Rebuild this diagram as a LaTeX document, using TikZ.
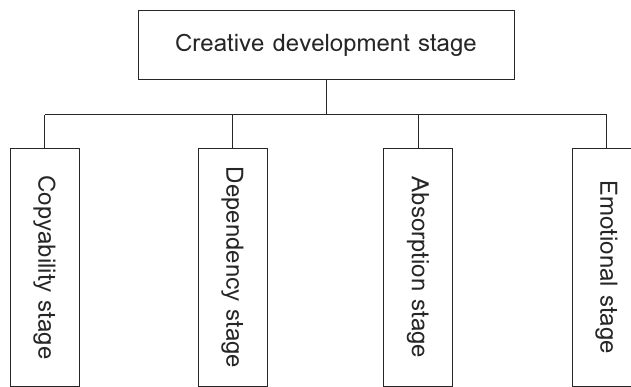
\documentclass[tikz,border=0pt]{standalone}
\usepackage{fontspec}
\newfontfamily\lomafont{Loma}
\usetikzlibrary{positioning}
\tikzset{
  stage-top/.style={draw=black!85,line width=1pt,rectangle,minimum width=376pt,minimum height=69pt,inner sep=0pt,font=\lomafont\fontsize{24}{28}\selectfont,text=black!85},
  stage-sub/.style={draw=black!85,line width=1pt,rectangle,minimum width=69pt,minimum height=237pt,inner sep=0pt,font=\lomafont\fontsize{24}{28}\selectfont,text=black!85},
  link/.style={draw=black!85,line width=1pt},
}

\begin{document}
\begin{tikzpicture}[x=1pt,y=-1pt]

  \clip (0,0) rectangle (631,387);

  % TOP: main stage
  \node[stage-top] (creative) at (326,45.5) {Creative development stage};
  \coordinate (bus) at (326,115);

  % BOTTOM: four sub stages
  \node[stage-sub] (copy) at (44.5,267.5)  {\rotatebox{-90}{Copyability stage}};
  \node[stage-sub] (dep)  at (232.5,267.5) {\rotatebox{-90}{Dependency stage}};
  \node[stage-sub] (abs)  at (418,267.5)   {\rotatebox{-90}{Absorption stage}};
  \node[stage-sub] (emot) at (606.5,267.5) {\rotatebox{-90}{Emotional stage}};

  % connectors
  \draw[link] (creative.south) -- (bus);
  \draw[link] (copy.north |- bus) -- (emot.north |- bus);
  \foreach \s in {copy,dep,abs,emot}
    \draw[link] (\s.north |- bus) -- (\s.north);

\end{tikzpicture}
\end{document}
